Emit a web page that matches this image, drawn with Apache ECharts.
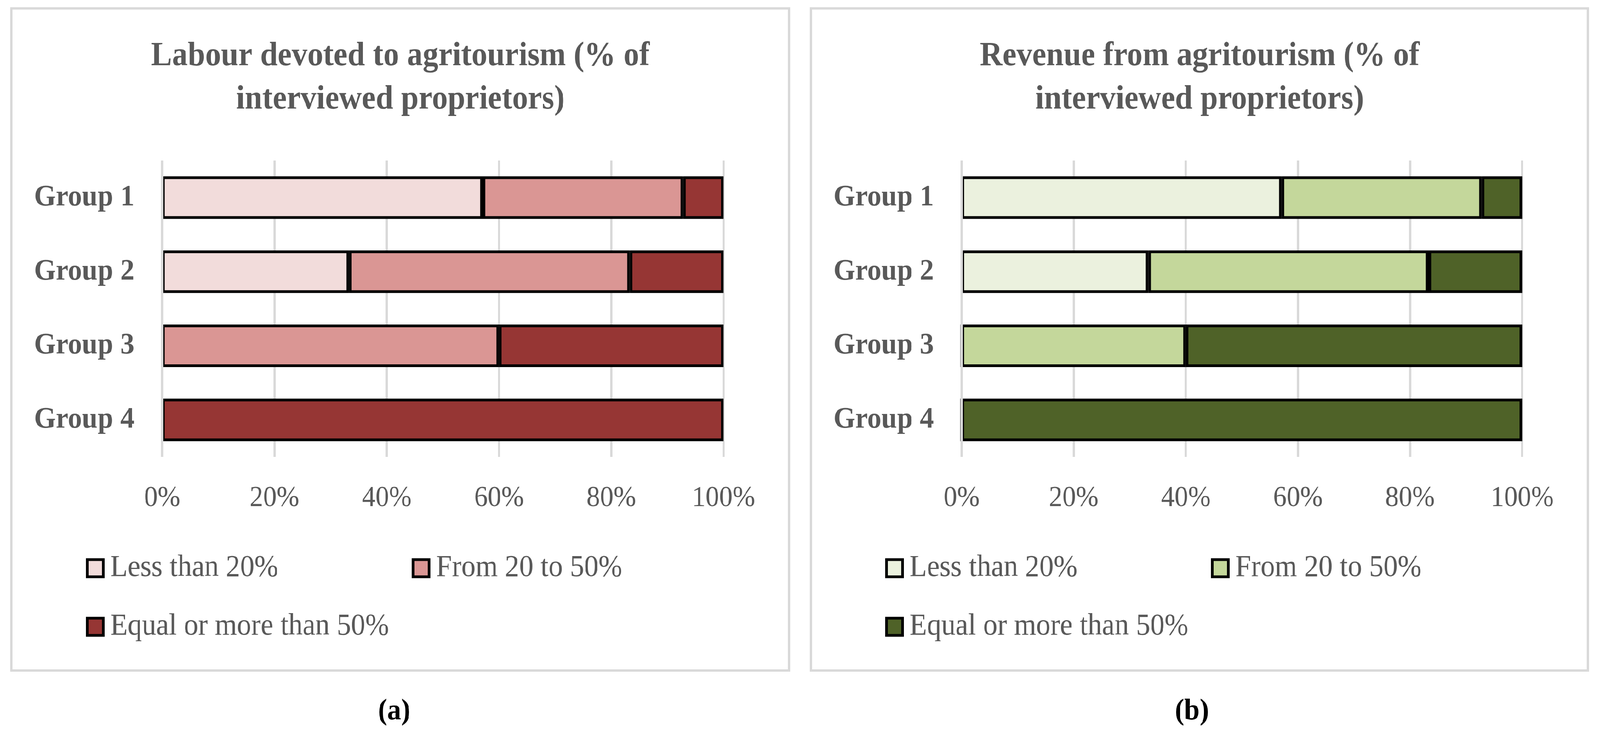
<!DOCTYPE html>
<html>
<head>
<meta charset="utf-8">
<script src="https://cdn.jsdelivr.net/npm/echarts@6/dist/echarts.min.js"></script>
<style>
html,body{margin:0;padding:0;background:#fff;overflow:hidden;}
#wrap{position:absolute;left:0;top:0;width:4376px;height:1877px;transform-origin:0 0;}
.pane{position:absolute;top:0;width:2188px;height:1877px;}
</style>
</head>
<body>
<div id="wrap">
  <div id="ca" class="pane" style="left:0"></div>
  <div id="cb" class="pane" style="left:2188px"></div>
</div>
<script>
// ---- data ----
var categories = ['Group 1', 'Group 2', 'Group 3', 'Group 4'];
var seriesNames = ['Less than 20%', 'From 20 to 50%', 'Equal or more than 50%'];
var xTicks = [0, 20, 40, 60, 80, 100];

var labourLess = [57.1, 33.3, 0, 0];
var labourMid  = [35.7, 50.0, 60.0, 0];
var labourHigh = [7.2, 16.7, 40.0, 100];

var revenueLess = [57.1, 33.3, 0, 0];
var revenueMid  = [35.7, 50.0, 40.0, 0];
var revenueHigh = [7.2, 16.7, 60.0, 100];

var labourColors  = ['#F2DCDB', '#DA9694', '#963634'];
var revenueColors = ['#EBF1DE', '#C4D79B', '#4F6228'];

var FONT = 'Liberation Serif';
var GREY = '#595959';

// the design is laid out on a 4376 x 1877 canvas; fit it to the real viewport
(function () {
  var W = window.innerWidth || 4376, H = window.innerHeight || 1877;
  var sx = W / 4376, sy = H / 1877;
  if (Math.abs(sx - 1) > 0.002 || Math.abs(sy - 1) > 0.002) {
    document.getElementById('wrap').style.transform = 'scale(' + sx + ',' + sy + ')';
  }
})();

function build(dom, cfg) {
  var chart = echarts.init(dom, null, {renderer: 'canvas', devicePixelRatio: 1});
  var vals = cfg.values;
  var series = seriesNames.map(function (n, i) {
    var s = {
      name: n,
      type: 'bar',
      stack: 'total',
      barWidth: 109,
      data: vals[i],
      itemStyle: {color: cfg.colors[i], borderColor: '#000', borderWidth: 7},
      emphasis: {disabled: true}
    };
    if (i === seriesNames.length - 1) {
      // the 0% gridline sits over the bars' left edges, as in the original
      s.markLine = {
        silent: true,
        symbol: 'none',
        label: {show: false},
        lineStyle: {color: '#D9D9D9', width: 7, type: 'solid'},
        emphasis: {disabled: true},
        z: 10,
        data: [{xAxis: xTicks[0]}]
      };
    }
    return s;
  });
  var legendPos = [[cfg.legX1, 1416], [cfg.legX2, 1416], [cfg.legX1, 1566]];
  var legends = seriesNames.map(function (n, i) {
    return {
      data: [n],
      left: legendPos[i][0],
      top: legendPos[i][1],
      padding: 0,
      icon: 'rect',
      itemWidth: 44,
      itemHeight: 44,
      selectedMode: false,
      itemStyle: {borderColor: '#000', borderWidth: 7},
      textStyle: {fontFamily: FONT, fontSize: 78, color: GREY, padding: [0, 0, 0, 14]}
    };
  });
  chart.setOption({
    animation: false,
    backgroundColor: '#fff',
    title: [{
      text: cfg.title,
      left: cfg.titleX,
      textAlign: 'center',
      top: 89,
      padding: 0,
      textStyle: {fontFamily: FONT, fontSize: 86, fontWeight: 'bold', color: GREY, lineHeight: 111}
    }, {
      text: '{p|(}{b|' + cfg.caption + '}{p|)}',
      left: cfg.capX,
      textAlign: 'center',
      top: 1784,
      padding: 0,
      textStyle: {
        rich: {
          p: {fontFamily: FONT, fontSize: 76, color: '#000'},
          b: {fontFamily: FONT, fontSize: 76, fontWeight: 'bold', color: '#000'}
        }
      }
    }],
    legend: legends,
    grid: {left: cfg.gridLeft, width: cfg.gridWidth, top: 411, height: 759, containLabel: false},
    xAxis: {
      type: 'value',
      min: xTicks[0],
      max: xTicks[xTicks.length - 1],
      interval: xTicks[1] - xTicks[0],
      axisLine: {show: false},
      axisTick: {show: false},
      splitLine: {show: true, lineStyle: {color: '#D9D9D9', width: 6}},
      axisLabel: {formatter: '{value}%', fontFamily: FONT, fontSize: 74, color: GREY, margin: 70}
    },
    yAxis: {
      type: 'category',
      data: categories,
      inverse: true,
      axisLine: {show: false},
      axisTick: {show: false},
      axisLabel: {fontFamily: FONT, fontSize: 77, fontWeight: 'bold', color: GREY, margin: 76}
    },
    graphic: [{
      type: 'rect',
      shape: {x: cfg.boxL, y: 21.5, width: cfg.boxR - cfg.boxL, height: 1717 - 21.5},
      style: {fill: 'none', stroke: '#D9D9D9', lineWidth: 6},
      silent: true,
      z: -1
    }],
    series: series
  });
  return chart;
}

build(document.getElementById('ca'), {
  title: 'Labour devoted to agritourism (% of\ninterviewed proprietors)',
  caption: 'a',
  values: [labourLess, labourMid, labourHigh],
  colors: labourColors,
  titleX: 1095, capX: 1078,
  gridLeft: 443.5, gridWidth: 1535.5,
  legX1: 235, legX2: 1126,
  boxL: 31, boxR: 2158
});
build(document.getElementById('cb'), {
  title: 'Revenue from agritourism (% of\ninterviewed proprietors)',
  caption: 'b',
  values: [revenueLess, revenueMid, revenueHigh],
  colors: revenueColors,
  titleX: 1093, capX: 1072,
  gridLeft: 442, gridWidth: 1533,
  legX1: 233, legX2: 1124,
  boxL: 30, boxR: 2155
});
</script>
</body>
</html>
